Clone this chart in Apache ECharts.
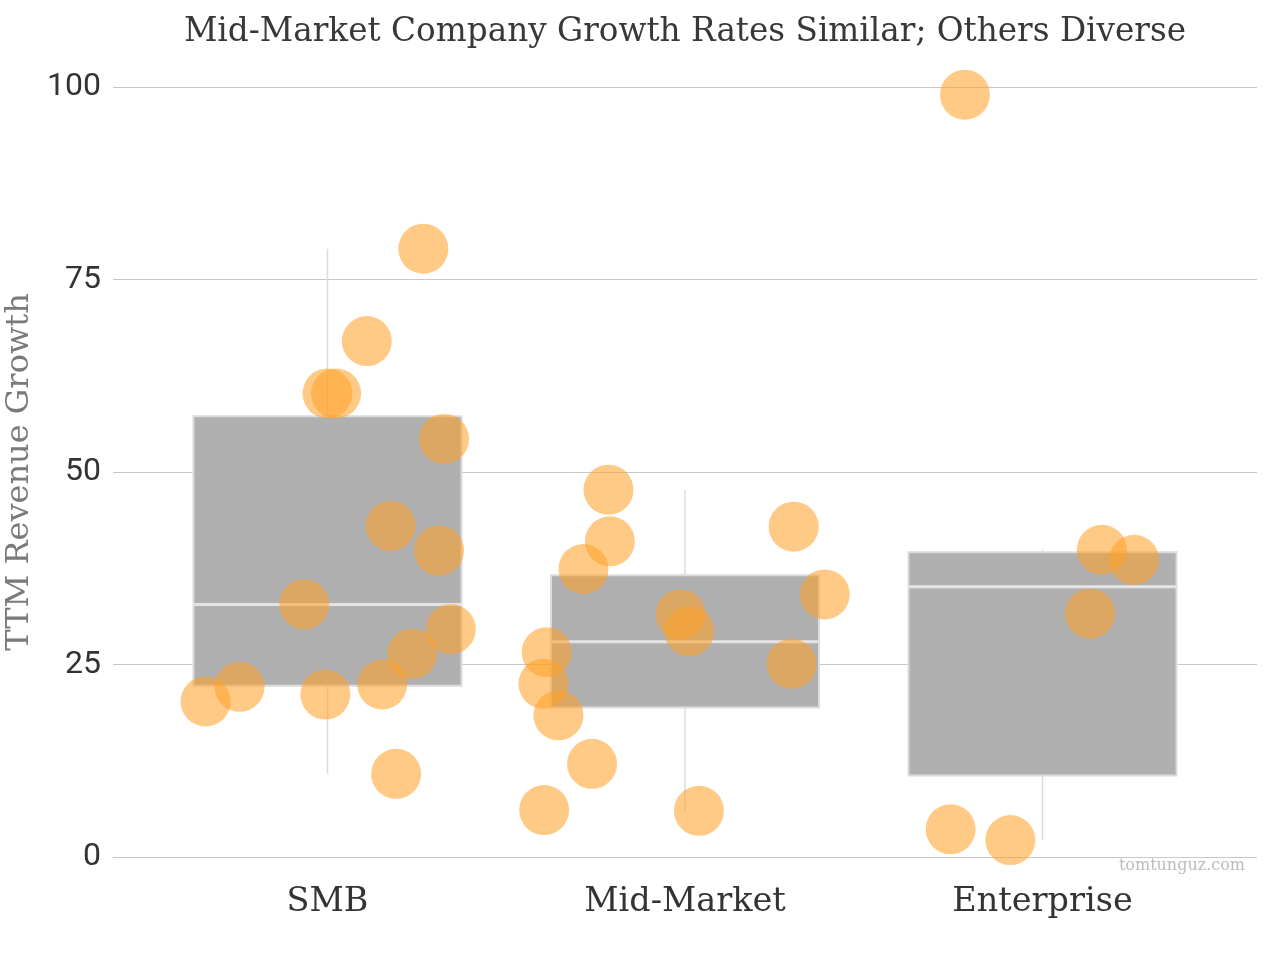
<!DOCTYPE html>
<html><head><meta charset="utf-8">
<script src="https://cdn.jsdelivr.net/npm/echarts@6/dist/echarts.min.js"></script>
<style>html,body{margin:0;padding:0;background:#fff}#c{width:1280px;height:960px}</style>
</head><body><div id="c"></div>
<script>
// ---- data ----
const categories = ['SMB', 'Mid-Market', 'Enterprise'];
const smbGrowth = [20.2, 22.1, 32.8, 21.1, 60.2, 60.2, 67.0, 22.4, 43.0, 10.8, 26.4, 79.0, 54.3, 39.8, 29.6];
const smbJitter = [-0.341, -0.246, -0.065, -0.006, 0.000, 0.024, 0.110, 0.153, 0.177, 0.192, 0.237, 0.268, 0.326, 0.312, 0.345];
const midGrowth = [47.7, 41.0, 37.4, 42.9, 34.1, 31.5, 29.3, 26.6, 25.1, 22.5, 18.4, 12.1, 6.1, 6.0];
const midJitter = [-0.214, -0.210, -0.284, 0.304, 0.391, -0.012, 0.012, -0.387, 0.298, -0.396, -0.354, -0.260, -0.394, 0.039];
const entGrowth = [3.6, 2.2, 99.0, 31.6, 39.9, 38.6];
const entJitter = [-0.257, -0.090, -0.217, 0.133, 0.166, 0.256];
const yTicks = [0, 25, 50, 75, 100];

const groups = [smbGrowth, midGrowth, entGrowth];
const jitters = [smbJitter, midJitter, entJitter];

function quantile(sorted, p) {
  const h = (sorted.length - 1) * p;
  const lo = Math.floor(h), hi = Math.ceil(h);
  return sorted[lo] + (h - lo) * (sorted[hi] - sorted[lo]);
}
function boxStats(vals) {
  const s = vals.slice().sort((a, b) => a - b);
  const q1 = quantile(s, 0.25), med = quantile(s, 0.5), q3 = quantile(s, 0.75);
  const iqr = q3 - q1;
  const lowF = q1 - 1.5 * iqr, highF = q3 + 1.5 * iqr;
  const inside = s.filter(v => v >= lowF && v <= highF);
  return [inside[0], q1, med, q3, inside[inside.length - 1]];
}

const boxData = groups.map((g, i) => [i + 1].concat(boxStats(g)));
const pointData = [];
groups.forEach((g, i) => g.forEach((v, j) => pointData.push([i + 1 + jitters[i][j], v])));

const slab = '"DejaVu Serif", serif';
const chart = echarts.init(document.getElementById('c'), null, { renderer: 'canvas' });
chart.setOption({
  backgroundColor: '#ffffff',
  animation: false,
  grid: { left: 113, right: 23, top: 87, bottom: 103, containLabel: false, outerBoundsMode: 'none' },
  graphic: [
    { type: 'text', style: { text: 'Mid-Market Company Growth Rates Similar; Others Diverse', x: 685, y: 33, textAlign: 'center', textVerticalAlign: 'middle', font: '32.7px ' + slab, fill: '#383838' } },
    { type: 'text', style: { text: 'tomtunguz.com', x: 1245, y: 866, textAlign: 'right', textVerticalAlign: 'middle', font: '16px ' + slab, fill: '#bcbcbc' } }
  ],
  xAxis: {
    type: 'value', min: 0.4, max: 3.6,
    axisLine: { show: false }, axisTick: { show: false }, splitLine: { show: false },
    axisLabel: {
      customValues: [1, 2, 3],
      formatter: v => categories[Math.round(v) - 1],
      fontFamily: slab, fontSize: 33.5, color: '#333', margin: 28
    }
  },
  yAxis: {
    type: 'value', min: 0, max: 100, interval: 25,
    name: 'TTM Revenue Growth', nameLocation: 'middle', nameRotate: 90, nameGap: 75,
    nameTextStyle: { fontFamily: slab, fontSize: 32, color: '#7a7a7a' },
    axisLine: { show: false }, axisTick: { show: false },
    splitLine: { lineStyle: { color: '#c8c8c8', width: 1 } },
    axisLabel: { fontFamily: 'Roboto, sans-serif', fontSize: 32, color: '#333', margin: 12,
      padding: [4, 0, 0, 0],
      formatter: v => yTicks.includes(v) ? String(v) : '' }
  },
  series: [
    {
      type: 'custom', z: 2,
      data: boxData,
      encode: { x: 0, y: [1, 2, 3, 4, 5] },
      renderItem: function (params, api) {
        const x = api.value(0);
        const lo = api.coord([x, api.value(1)]);
        const q1 = api.coord([x, api.value(2)]);
        const md = api.coord([x, api.value(3)]);
        const q3 = api.coord([x, api.value(4)]);
        const hi = api.coord([x, api.value(5)]);
        const w = api.size([0.75, 0])[0];
        return { type: 'group', children: [
          { type: 'line', shape: { x1: lo[0], y1: lo[1], x2: hi[0], y2: hi[1] }, style: { stroke: '#dcdcdc', lineWidth: 1.5 } },
          { type: 'rect', shape: { x: q3[0] - w / 2, y: q3[1], width: w, height: q1[1] - q3[1] }, style: { fill: '#b0b0b0', stroke: '#dcdcdc', lineWidth: 2 } },
          { type: 'line', shape: { x1: md[0] - w / 2, y1: md[1], x2: md[0] + w / 2, y2: md[1] }, style: { stroke: '#e4e4e4', lineWidth: 3 } }
        ] };
      }
    },
    {
      type: 'scatter', z: 3,
      data: pointData,
      symbolSize: 50,
      itemStyle: { color: 'rgba(255,160,40,0.7)' }
    }
  ]
});
</script>
</body></html>
